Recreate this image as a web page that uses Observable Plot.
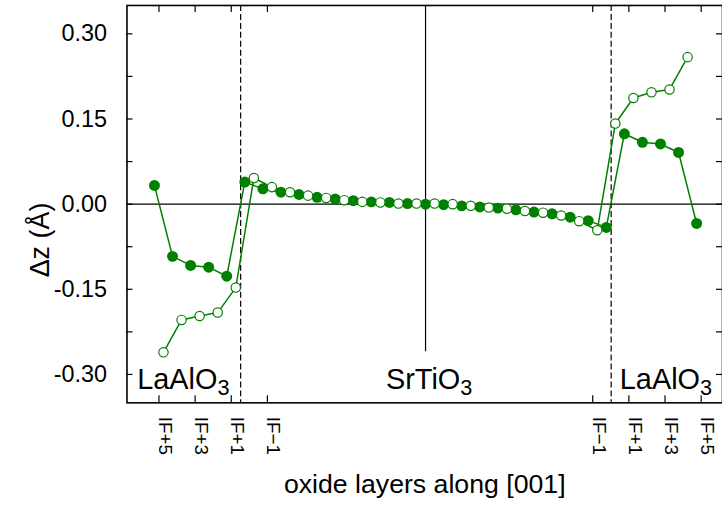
<!DOCTYPE html>
<html><head><meta charset="utf-8">
<script src="https://cdn.jsdelivr.net/npm/d3@7"></script>
<script src="https://cdn.jsdelivr.net/npm/@observablehq/plot@0.6"></script>
<style>
html,body{margin:0;padding:0;background:#fff;overflow:hidden}
#chart{width:722px;height:517px;overflow:hidden;position:relative;background:#fff}
</style></head><body><div id="chart"></div>
<script>
// ---- data ----
const filledLayer = [0,1,2,3,4,5,6,7,8,9,10,11,12,13,14,15,16,17,18,19,20,21,22,23,24,25,26,27,28,29,30];
const filledDz = [0.033,-0.092,-0.108,-0.111,-0.127,0.039,0.027,0.021,0.017,0.012,0.009,0.006,0.004,0.003,0.001,0.000,-0.001,-0.003,-0.005,-0.007,-0.010,-0.014,-0.017,-0.023,-0.029,-0.041,0.124,0.109,0.106,0.091,-0.034];
const openLayer = [0.5,1.5,2.5,3.5,4.5,5.5,6.5,7.5,8.5,9.5,10.5,11.5,12.5,13.5,14.5,15.5,16.5,17.5,18.5,19.5,20.5,21.5,22.5,23.5,24.5,25.5,26.5,27.5,28.5,29.5];
const openDz = [-0.261,-0.204,-0.197,-0.191,-0.147,0.046,0.030,0.021,0.015,0.011,0.007,0.004,0.003,0.001,0.001,0.001,0.000,-0.003,-0.006,-0.008,-0.012,-0.015,-0.020,-0.030,-0.046,0.142,0.187,0.197,0.202,0.259];
const xTickPos = [0.25,2.25,4.25,6.25,24.25,26.25,28.25,30.25];
const xTickLabels = ["IF+5","IF+3","IF+1","IF\u22121","IF\u22121","IF+1","IF+3","IF+5"];
const yTickValues = [-0.30,-0.15,0.00,0.15,0.30];
const yMinorTicks = [-0.225,-0.075,0.075,0.225];
const interfaceX = [4.77,25.27];
const centerX = [15];
const centerLineBottom = -0.26;
const regionLabels = ["LaAlO3","SrTiO3","LaAlO3"];
const regionX = [1.6,15.2,28.3];
const xDomain = [-1.52,31.43];
const yDomain = [-0.35,0.35];
const xTitle = "oxide layers along [001]";
const yTitle = "\u0394z (\u00C5)";

// ---- layout ----
const W=725, H=517, ML=127, MR=0, MT=5, MB=113;
const innerW = W-ML-MR, innerH = H-MT-MB;
const TICK = 6;
const green = "#008000";

const filled = filledLayer.map((x,i)=>({x, y: filledDz[i]}));
const open = openLayer.map((x,i)=>({x, y: openDz[i]}));
const yAllTicks = yTickValues.concat(yMinorTicks);

const chart = Plot.plot({
  width: W, height: H,
  marginLeft: ML, marginRight: MR, marginTop: MT, marginBottom: MB,
  x: {domain: xDomain, axis: null},
  y: {domain: yDomain, axis: null},
  style: {fontFamily: "'Liberation Sans', Arial, Helvetica, sans-serif", background: "white", color: "black"},
  marks: [
    Plot.ruleY([0], {stroke: "black", strokeWidth: 1.3}),
    Plot.ruleX(centerX, {y1: yDomain[1], y2: centerLineBottom, stroke: "black", strokeWidth: 1.2}),
    Plot.ruleX(interfaceX, {stroke: "black", strokeWidth: 1.2, strokeDasharray: "6,3"}),
    // y ticks (inward, both sides)
    Plot.tickY(yAllTicks, {y: d=>d, insetRight: innerW-TICK, stroke: "black", strokeWidth: 1.2}),
    Plot.tickY(yAllTicks, {y: d=>d, insetLeft: innerW-TICK, stroke: "black", strokeWidth: 1.2}),
    // x ticks (inward, bottom and top)
    Plot.tickX(xTickPos, {x: d=>d, insetTop: innerH-TICK-1, stroke: "black", strokeWidth: 1.2}),
    Plot.tickX(xTickPos, {x: d=>d, insetBottom: innerH-TICK-1, stroke: "black", strokeWidth: 1.2}),
    // series
    Plot.line(filled, {x: "x", y: "y", stroke: green, strokeWidth: 1.5}),
    Plot.line(open, {x: "x", y: "y", stroke: green, strokeWidth: 1.5}),
    Plot.dot(filled, {x: "x", y: "y", r: 5.5, fill: green, stroke: "none"}),
    Plot.dot(open, {x: "x", y: "y", r: 4.7, fill: "white", stroke: green, strokeWidth: 1.2}),
    // tick labels
    Plot.text(yTickValues, {y: d=>d, text: d=>d.toFixed(2), frameAnchor: "left", textAnchor: "end", dx: -20, fontSize: 23.5}),
    Plot.text(xTickLabels, {x: (d,i)=>xTickPos[i], text: d=>d, frameAnchor: "bottom", dy: 14, rotate: 90, textAnchor: "start", fontSize: 19}),
    // region labels
    Plot.text(regionLabels, {x: (d,i)=>regionX[i], text: d=>d, frameAnchor: "bottom", dy: -14, lineAnchor: "bottom", textAnchor: "middle", fontSize: 29}),
    // titles
    Plot.text([xTitle], {text: d=>d, frameAnchor: "bottom", dy: 91, textAnchor: "middle", fontSize: 26.8}),
    Plot.text([yTitle], {text: d=>d, frameAnchor: "middle", dx: -(ML + innerW/2 - 40), dy: 36, rotate: -90, textAnchor: "middle", fontSize: 27}),
    Plot.frame({stroke: "black", strokeWidth: 1.6})
  ]
});

// post-process: subscripts
const svgNS = "http://www.w3.org/2000/svg";
chart.querySelectorAll("text").forEach(t => {
  const s = t.textContent;
  if (s === "LaAlO3" || s === "SrTiO3") {
    t.textContent = s.slice(0, -1);
    const ts = document.createElementNS(svgNS, "tspan");
    ts.setAttribute("font-size", "0.75em");
    ts.setAttribute("dy", "0.3em");
    ts.textContent = "3";
    t.appendChild(ts);
  }
});
document.getElementById("chart").appendChild(chart);
</script>
</body></html>
